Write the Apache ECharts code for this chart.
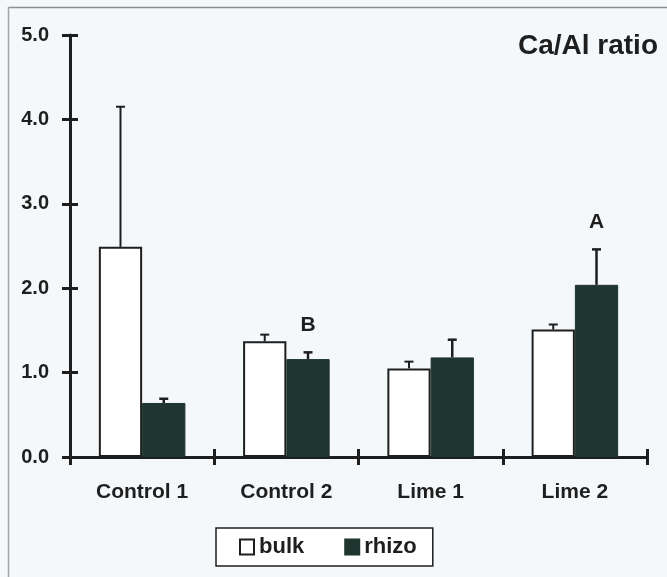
<!DOCTYPE html>
<html>
<head>
<meta charset="utf-8">
<script src="https://cdn.jsdelivr.net/npm/echarts@6/dist/echarts.min.js"></script>
<style>
html,body{margin:0;padding:0;background:#f5f8fa;}
#chart{width:667px;height:577px;}
</style>
</head>
<body>
<div id="chart"></div>
<script>
// data
var categories = ['Control 1', 'Control 2', 'Lime 1', 'Lime 2'];
var bulkValues = [2.49, 1.37, 1.05, 1.51];
var bulkErrors = [1.66, 0.08, 0.08, 0.06];
var rhizoValues = [0.64, 1.16, 1.18, 2.04];
var rhizoErrors = [0.05, 0.08, 0.21, 0.42];
var letters = ['', 'B', '', 'A'];
var yTicks = [0, 1, 2, 3, 4, 5];

var font = "'Liberation Sans', Arial, sans-serif";
var ink = '#1e1e1e';
var rhizoColor = '#1f352f';
var barFrac = 0.30;
var gridBox = {left: 70, right: 20, top: 35, bottom: 120};

function errItems(vals, errs){
	var out = [];
	for(var i = 0;i<vals.length;i++){
		out.push([i, vals[i], errs[i]]);
	}
	return out;
}

function errRender(offset, width){
	return function(params, api){
		var band = api.size([1, 0])[0];
		var base = api.coord([api.value(0), api.value(1)]);
		var top = api.coord([api.value(0), api.value(1) + api.value(2)]);
		var x = base[0] + offset * band;
		var style = {stroke: ink, lineWidth: width};
		return {
			type: 'group',
			children: [
				{type: 'line', shape: {x1: x, y1: base[1], x2: x, y2: top[1]}, style: style},
				{type: 'line', shape: {x1: x - 4.5, y1: top[1], x2: x + 4.5, y2: top[1]}, style: style}
			]
		};
	};
}

var letterItems = [];
for(var i = 0;i<letters.length;i++){
	letterItems.push([i, rhizoValues[i] + rhizoErrors[i], letters[i]]);
}

var tickStyle = {color: ink, width: 3};

var myChart = echarts.init(document.getElementById('chart'));
var option = {
	backgroundColor: '#f5f8fa',
	animation: false,
	title: {
		text: 'Ca/Al ratio',
		right: 4,
		top: 27,
		textStyle: {fontFamily: font, fontWeight: 'bold', fontSize: 28, color: ink}
	},
	legend: {
		data: ['bulk', 'rhizo'],
		left: 216,
		top: 528,
		orient: 'horizontal',
		padding: [8, 16, 8, 23],
		itemGap: 40,
		itemWidth: 14,
		itemHeight: 15,
		icon: 'rect',
		borderColor: ink,
		borderWidth: 1.5,
		backgroundColor: '#ffffff',
		textStyle: {fontFamily: font, fontWeight: 'bold', fontSize: 22, color: ink}
	},
	graphic: [
		{type: 'line', shape: {x1: 8, y1: 7.5, x2: 667, y2: 7.5}, style: {stroke: '#8a8e92', lineWidth: 1.5}},
		{type: 'line', shape: {x1: 8.5, y1: 7, x2: 8.5, y2: 577}, style: {stroke: '#a0a4a8', lineWidth: 1.5}}
	],
	// second grid sits on the first one and only carries the inner half of the crossing ticks
	grid: [gridBox, gridBox],
	xAxis: [
		{
			type: 'category',
			gridIndex: 0,
			data: categories,
			axisLine: {lineStyle: {color: ink, width: 3}},
			axisTick: {show: true, length: 8, lineStyle: tickStyle},
			axisLabel: {fontFamily: font, fontWeight: 'bold', fontSize: 21, color: ink, margin: 25},
			splitLine: {show: false}
		},
		{
			type: 'category',
			gridIndex: 1,
			data: categories,
			axisLine: {show: false},
			axisTick: {show: true, inside: true, length: 8, lineStyle: tickStyle},
			axisLabel: {show: false},
			splitLine: {show: false}
		}
	],
	yAxis: [
		{
			type: 'value',
			gridIndex: 0,
			min: yTicks[0],
			max: yTicks[yTicks.length - 1],
			interval: 1,
			axisLine: {show: true, lineStyle: {color: ink, width: 3}},
			axisTick: {show: true, length: 8, lineStyle: tickStyle},
			axisLabel: {
				fontFamily: font, fontWeight: 'bold', fontSize: 20, color: ink, margin: 21,
				formatter: function(v){return v.toFixed(1);}
			},
			splitLine: {show: false}
		},
		{
			type: 'value',
			gridIndex: 1,
			min: yTicks[0],
			max: yTicks[yTicks.length - 1],
			interval: 1,
			axisLine: {show: false},
			axisTick: {show: true, inside: true, length: 8, lineStyle: tickStyle},
			axisLabel: {show: false},
			splitLine: {show: false}
		}
	],
	series: [
		{
			name: 'bulk',
			type: 'bar',
			data: bulkValues,
			barWidth: (barFrac * 100) + '%',
			barGap: '0%',
			itemStyle: {color: '#ffffff', borderColor: ink, borderWidth: 2},
			z: 2
		},
		{
			name: 'rhizo',
			type: 'bar',
			data: rhizoValues,
			barWidth: (barFrac * 100) + '%',
			barGap: '0%',
			itemStyle: {color: rhizoColor, borderColor: rhizoColor, borderWidth: 1},
			z: 2
		},
		{
			name: 'bulkErr',
			type: 'custom',
			data: errItems(bulkValues, bulkErrors),
			renderItem: errRender(-barFrac / 2, 2),
			z: 5
		},
		{
			name: 'rhizoErr',
			type: 'custom',
			data: errItems(rhizoValues, rhizoErrors),
			renderItem: errRender(barFrac / 2, 2.5),
			z: 5
		},
		{
			name: 'letters',
			type: 'custom',
			data: letterItems,
			renderItem: function(params, api){
				var band = api.size([1, 0])[0];
				var pt = api.coord([api.value(0), api.value(1)]);
				return {
					type: 'text',
					x: pt[0] + barFrac / 2 * band,
					y: pt[1] - 27,
					style: {
						text: letters[params.dataIndex],
						fontFamily: font, fontWeight: 'bold', fontSize: 21, fill: ink,
						align: 'center', verticalAlign: 'middle'
					}
				};
			},
			z: 5
		}
	]
};
myChart.setOption(option);
</script>
</body>
</html>
